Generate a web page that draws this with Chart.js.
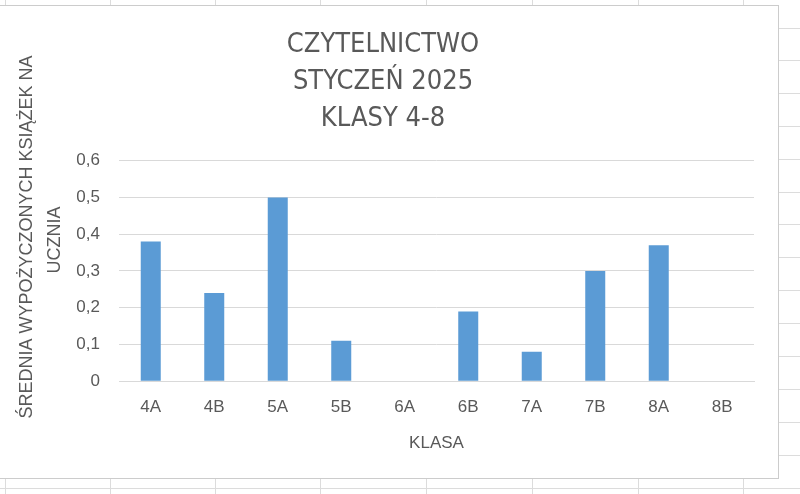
<!DOCTYPE html>
<html>
<head>
<meta charset="utf-8">
<script src="https://cdn.jsdelivr.net/npm/chart.js@4.4.1/dist/chart.umd.min.js"></script>
<style>
  html, body { margin: 0; padding: 0; background: #fff; }
  #wrap { width: 800px; height: 494px; }
</style>
</head>
<body>
<div id="wrap"><canvas id="chart"></canvas></div>
<script>
const classes = ["4A", "4B", "5A", "5B", "6A", "6B", "7A", "7B", "8A", "8B"];
const avgBooks = [0.38, 0.24, 0.50, 0.11, 0, 0.19, 0.08, 0.30, 0.37, 0];
const yTickLabels = ["0", "0,1", "0,2", "0,3", "0,4", "0,5", "0,6"];
const titleLines = ["CZYTELNICTWO", "STYCZEŃ 2025", "KLASY 4-8"];
const yTitleLines = ["ŚREDNIA WYPOŻYCZONYCH KSIĄŻEK NA", "UCZNIA"];
const xTitle = "KLASA";

const textColor = "#595959";
const tickFont = { family: "'Liberation Sans', Arial, sans-serif", size: 17 };

// spreadsheet cells behind the chart + the chart box
const sheetBackground = {
  id: "sheetBackground",
  beforeDraw(chart) {
    const ctx = chart.ctx;
    ctx.save();
    ctx.fillStyle = "#fff";
    ctx.fillRect(0, 0, chart.width, chart.height);
    ctx.strokeStyle = "#dcdcdc";
    ctx.lineWidth = 1;
    ctx.beginPath();
    [5, 110, 215, 320, 426, 532, 638, 743].forEach(x => {
      ctx.moveTo(x + 0.5, 0);
      ctx.lineTo(x + 0.5, chart.height);
    });
    [28, 60, 93, 126, 159, 192, 224, 257, 290, 323, 356, 389, 422, 455, 488].forEach(y => {
      ctx.moveTo(0, y + 0.5);
      ctx.lineTo(chart.width, y + 0.5);
    });
    ctx.stroke();
    ctx.fillStyle = "#fff";
    ctx.fillRect(-3, 5, 782, 473);
    ctx.strokeStyle = "#cccccc";
    ctx.strokeRect(-3.5, 5.5, 782, 473);
    ctx.restore();
  }
};

// two-line rotated y axis title, placed like Excel does it
const yAxisTitle = {
  id: "yAxisTitle",
  afterDraw(chart) {
    const ctx = chart.ctx;
    ctx.save();
    ctx.fillStyle = textColor;
    ctx.font = "18px 'Liberation Sans', Arial, sans-serif";
    ctx.textAlign = "center";
    ctx.textBaseline = "middle";
    const spots = [[27, 237], [55, 240]];
    yTitleLines.forEach((line, i) => {
      ctx.save();
      ctx.translate(spots[i][0], spots[i][1]);
      ctx.rotate(-Math.PI / 2);
      ctx.fillText(line, 0, 0);
      ctx.restore();
    });
    ctx.restore();
  }
};

new Chart(document.getElementById("chart"), {
  type: "bar",
  data: {
    labels: classes,
    datasets: [{
      data: avgBooks,
      backgroundColor: "#5b9bd5",
      barPercentage: 0.315,
      categoryPercentage: 1
    }]
  },
  options: {
    responsive: true,
    maintainAspectRatio: false,
    animation: false,
    layout: { padding: { left: 12, right: 46, top: 0, bottom: 40 } },
    plugins: {
      legend: { display: false },
      tooltip: { enabled: false },
      title: {
        display: true,
        text: titleLines,
        color: textColor,
        font: { family: "'DejaVu Sans Condensed', 'Liberation Sans', sans-serif", size: 27, weight: "normal", lineHeight: 1.38 },
        padding: { top: 26, bottom: 23 }
      }
    },
    scales: {
      x: {
        grid: { display: false, drawTicks: false },
        border: { color: "#d9d9d9" },
        ticks: { color: textColor, font: tickFont, padding: 16 },
        title: {
          display: true,
          text: xTitle,
          color: textColor,
          font: tickFont,
          padding: { top: 0, bottom: 0 }
        }
      },
      y: {
        min: 0,
        max: 0.6,
        ticks: {
          stepSize: 0.1,
          color: textColor,
          font: tickFont,
          padding: 19,
          callback: (v, i) => yTickLabels[i]
        },
        grid: { color: "#d9d9d9", drawTicks: false },
        border: { display: false },
        afterFit(scale) { scale.width = 107; }
      }
    }
  },
  plugins: [sheetBackground, yAxisTitle]
});
</script>
</body>
</html>
